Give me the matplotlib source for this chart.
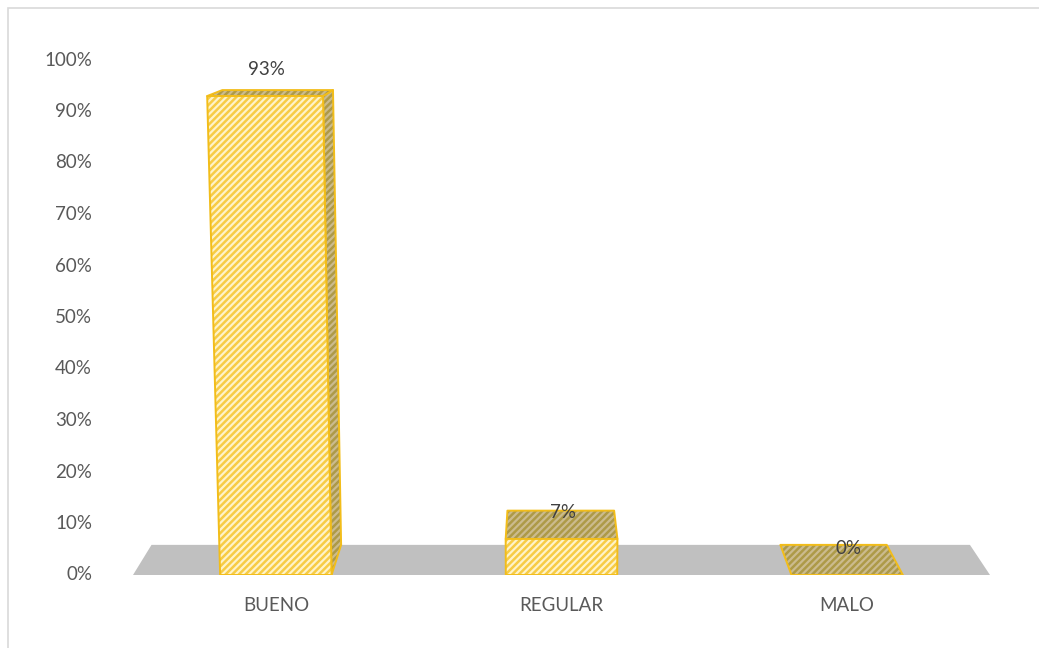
import matplotlib
matplotlib.use("Agg")
import matplotlib.pyplot as plt
from matplotlib.patches import Polygon, Rectangle

categories = ["BUENO", "REGULAR", "MALO"]
values = [93, 7, 0]
labels = ["93%", "7%", "0%"]
ytick_values = [0, 10, 20, 30, 40, 50, 60, 70, 80, 90, 100]

plt.rcParams["font.family"] = ["Lato", "DejaVu Sans"]
plt.rcParams["hatch.linewidth"] = 1.8

FRONT = "#fff3c9"
FRONT_HATCH = "#f7cc45"
SIDE = "#cbbb8e"
SIDE_HATCH = "#ad9a48"
EDGE = "#f2bd1a"
FLOOR = "#c0c0c0"

# simple perspective: category x, value v, depth d (0 front, 1 back)
CX = 0.94       # horizontal vanishing centre, in category units
HALF_W = 0.195  # half bar width
DEPTH = 5.85    # floor depth in % units


def proj(x, v, d):
    s = (1 + 0.00043 * v) * (1 - 0.045 * d)
    xp = CX + (x - CX) * s
    yp = v + d * DEPTH * (1 - v / 116.0)
    return xp, yp


def face(ax, pts, fc, hc, zorder):
    ax.add_patch(Polygon(pts, closed=True, facecolor=fc, edgecolor=hc,
                         hatch="/////", linewidth=0, zorder=zorder))
    ax.add_patch(Polygon(pts, closed=True, facecolor="none", edgecolor=EDGE,
                         linewidth=1.4, zorder=zorder + 0.1, joinstyle="round"))


fig = plt.figure(figsize=(10.39, 6.48), dpi=100)
fig.patches.append(Rectangle((8 / 1039, -0.1), 1.2, (640 / 648) + 0.1,
                             transform=fig.transFigure, fill=False,
                             edgecolor="#d9d9d9", linewidth=1.2))

ax = fig.add_axes([133 / 1039, 73 / 648, 857 / 1039, 515 / 648])
ax.set_xlim(-0.5, 2.5)
ax.set_ylim(0, 100)
ax.axis("off")

# floor
n = len(categories)
floor = [proj(-0.5, 0, 0), proj(n - 0.5, 0, 0), proj(n - 0.5, 0, 1), proj(-0.5, 0, 1)]
ax.add_patch(Polygon(floor, closed=True, facecolor=FLOOR, edgecolor="none", zorder=1))

for i, (v, lab) in enumerate(zip(values, labels)):
    l, r = i - HALF_W, i + HALF_W
    # right side face (visible when bar sits left of centre)
    if v > 0 and r < CX:
        face(ax, [proj(r, 0, 0), proj(r, v, 0), proj(r, v, 1), proj(r, 0, 1)],
             SIDE, SIDE_HATCH, 2)
    # top face
    face(ax, [proj(l, v, 0), proj(r, v, 0), proj(r, v, 1), proj(l, v, 1)],
         SIDE, SIDE_HATCH, 3)
    # front face
    if v > 0:
        face(ax, [proj(l, 0, 0), proj(r, 0, 0), proj(r, v, 0), proj(l, v, 0)],
             FRONT, FRONT_HATCH, 4)
    tx, ty = proj(i, v, 0)
    ax.annotate(lab, (tx, ty), xytext=(1, 19), textcoords="offset points",
                ha="center", va="center", fontsize=13.5, color="#404040", zorder=6)

# axis labels
for t in ytick_values:
    ax.annotate(f"{t}%", (-0.5, t), xytext=(-29.5, 0), textcoords="offset points",
                ha="right", va="center", fontsize=13.5, color="#595959")
for i, c in enumerate(categories):
    ax.annotate(c, (i, 0), xytext=(0, -22), textcoords="offset points",
                ha="center", va="center", fontsize=13.5, color="#595959")

fig.savefig("out.png", dpi=100)
